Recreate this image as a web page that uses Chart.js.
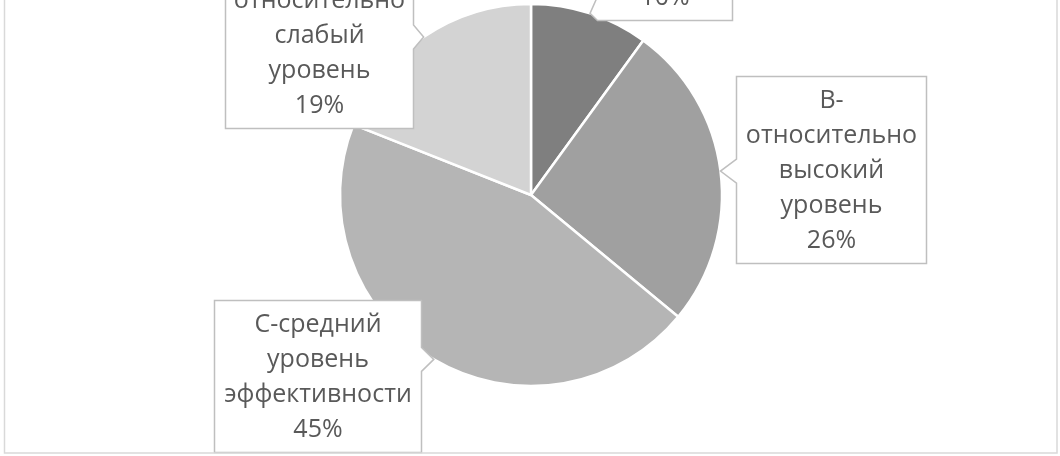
<!DOCTYPE html>
<html>
<head>
<meta charset="utf-8">
<script src="https://cdn.jsdelivr.net/npm/chart.js@4.4.0/dist/chart.umd.min.js"></script>
<style>
  html, body { margin: 0; padding: 0; background: #fff; }
  #wrap { width: 1060px; height: 456px; }
</style>
</head>
<body>
<div id="wrap"><canvas id="pieChart" width="1060" height="456"></canvas></div>
<script>
// data
const categories = ['А-высокий уровень', 'В-относительно высокий уровень', 'С-средний уровень эффективности', 'D-относительно слабый уровень'];
const labelLines = [
  ['А-высокий', 'уровень'],
  ['В-', 'относительно', 'высокий', 'уровень'],
  ['С-средний', 'уровень', 'эффективности'],
  ['D-', 'относительно', 'слабый', 'уровень']
];
const shares = [10, 26, 45, 19];

// callout boxes, offsets from the pie centre
const boxes = [
  { dx: 66, dy: -292, w: 135 },
  { dx: 205, dy: -119, w: 190 },
  { dx: -317, dy: 105, w: 207 },
  { dx: -306, dy: -254, w: 188 }
];
const LINE = 35;
const PAD = 6;

function calloutPath(ctx, x0, y0, x1, y1, tx, ty) {
  const hw = 12;
  const clamp = (v, a, b) => Math.max(a, Math.min(b, v));
  let side;
  if (tx < x0) side = 'left';
  else if (tx > x1) side = 'right';
  else if (ty < y0) side = 'top';
  else side = 'bottom';
  const pts = [[x0, y0]];
  if (side === 'top') { const c = clamp(tx, x0 + hw, x1 - hw); pts.push([c - hw, y0], [tx, ty], [c + hw, y0]); }
  pts.push([x1, y0]);
  if (side === 'right') { const c = clamp(ty, y0 + hw, y1 - hw); pts.push([x1, c - hw], [tx, ty], [x1, c + hw]); }
  pts.push([x1, y1]);
  if (side === 'bottom') { const c = clamp(tx, x0 + hw, x1 - hw); pts.push([c + hw, y1], [tx, ty], [c - hw, y1]); }
  pts.push([x0, y1]);
  if (side === 'left') { const c = clamp(ty, y0 + hw, y1 - hw); pts.push([x0, c + hw], [tx, ty], [x0, c - hw]); }
  ctx.beginPath();
  ctx.moveTo(pts[0][0], pts[0][1]);
  for (let k = 1; k < pts.length; k++) ctx.lineTo(pts[k][0], pts[k][1]);
  ctx.closePath();
}

const calloutPlugin = {
  id: 'callouts',
  afterDatasetsDraw(chart) {
    const ctx = chart.ctx;
    const meta = chart.getDatasetMeta(0);
    const total = shares.reduce((a, b) => a + b, 0);
    ctx.save();
    meta.data.forEach((arc, i) => {
      const mid = (arc.startAngle + arc.endAngle) / 2;
      const tx = arc.x + Math.cos(mid) * arc.outerRadius;
      const ty = arc.y + Math.sin(mid) * arc.outerRadius;
      const lines = labelLines[i].concat(Math.round(shares[i] / total * 100) + '%');
      const b = boxes[i];
      const x0 = Math.round(arc.x + b.dx) + 0.5;
      const y0 = Math.round(arc.y + b.dy) + 0.5;
      const x1 = x0 + b.w;
      const y1 = y0 + lines.length * LINE + PAD * 2;
      calloutPath(ctx, x0, y0, x1, y1, tx, ty);
      ctx.fillStyle = '#ffffff';
      ctx.fill();
      ctx.strokeStyle = '#bfbfbf';
      ctx.lineWidth = 1.5;
      ctx.stroke();
      ctx.fillStyle = '#595959';
      ctx.font = '25px "Open Sans"';
      ctx.textAlign = 'center';
      ctx.textBaseline = 'middle';
      lines.forEach((t, k) => {
        ctx.fillText(t, (x0 + x1) / 2, y0 + PAD + LINE * k + LINE / 2 + 1);
      });
    });
    ctx.restore();
  },
  afterDraw(chart) {
    const ctx = chart.ctx;
    ctx.save();
    ctx.strokeStyle = '#d9d9d9';
    ctx.lineWidth = 1.5;
    ctx.beginPath();
    ctx.moveTo(4.5, 0);
    ctx.lineTo(4.5, 453);
    ctx.lineTo(1057, 453);
    ctx.lineTo(1057, 0);
    ctx.stroke();
    ctx.restore();
  }
};

const ctx = document.getElementById('pieChart').getContext('2d');
const pieChart = new Chart(ctx, {
  type: 'pie',
  data: {
    labels: categories,
    datasets: [{
      data: shares,
      backgroundColor: ['#7f7f7f', '#a0a0a0', '#b5b5b5', '#d3d3d3'],
      borderColor: '#ffffff',
      borderWidth: 2.5,
      radius: 191
    }]
  },
  options: {
    responsive: false,
    animation: false,
    layout: { padding: { left: 300, right: 298, top: 0, bottom: 66 } },
    plugins: {
      legend: { display: false },
      tooltip: { enabled: false }
    }
  },
  plugins: [calloutPlugin]
});
</script>
</body>
</html>
